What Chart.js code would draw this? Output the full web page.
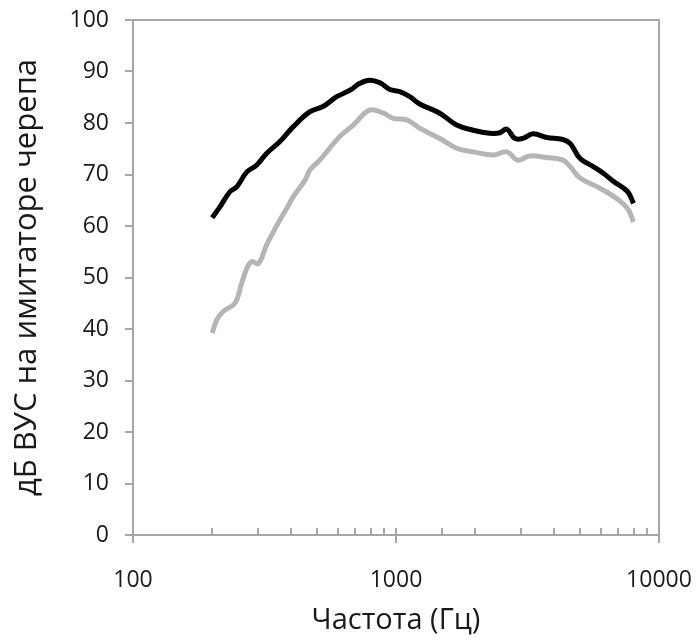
<!DOCTYPE html>
<html>
<head>
<meta charset="utf-8">
<script src="https://cdn.jsdelivr.net/npm/chart.js@4/dist/chart.umd.min.js"></script>
<style>
  html, body { margin: 0; padding: 0; background: #fff; }
  #wrap { width: 697px; height: 643px; }
</style>
</head>
<body>
<div id="wrap"><canvas id="chart" width="697" height="643"></canvas></div>
<script>
// Frequency (Hz) and level (dB)
const blackFreq = [200, 214, 234, 248, 271, 295, 322, 362, 407, 471, 528, 595, 670, 729, 794, 869, 948, 1034, 1128, 1230, 1467, 1700, 1966, 2277, 2484, 2637, 2832, 3032, 3321, 3737, 4311, 4600, 5012, 5640, 6160, 6740, 7590, 8000];
const blackDb = [61.6, 63.7, 66.7, 67.6, 70.5, 71.8, 74.1, 76.4, 79.3, 82.2, 83.2, 85.1, 86.4, 87.7, 88.3, 87.8, 86.5, 86.1, 85.1, 83.7, 81.9, 79.6, 78.6, 78.0, 78.1, 78.8, 77.0, 77.0, 77.9, 77.2, 76.8, 76.0, 73.1, 71.5, 70.2, 68.6, 66.7, 64.4];

const grayFreq = [200, 208, 220, 244, 259, 271, 283, 300, 322, 362, 384, 407, 451, 471, 513, 612, 688, 794, 894, 978, 1100, 1230, 1467, 1700, 1966, 2342, 2637, 2900, 3220, 3737, 4311, 4600, 5012, 5830, 6740, 7590, 8000];
const grayDb = [39.2, 41.7, 43.4, 45.0, 48.9, 51.8, 53.1, 52.7, 56.3, 61.2, 63.4, 65.7, 68.9, 70.9, 72.8, 77.4, 79.6, 82.5, 81.9, 80.9, 80.6, 79.0, 77.0, 75.1, 74.4, 73.8, 74.4, 72.8, 73.6, 73.3, 72.8, 71.5, 69.3, 67.6, 65.7, 63.4, 60.8];

const xLabels = [100, 1000, 10000];
const yMin = 0, yMax = 100, yStep = 10;

const xTitle = 'Частота (Гц)';
const yTitle = 'дБ ВУС на имитаторе черепа';

const axisColor = '#a6a6a6';

// frame + excel-like tick marks
const frameTicks = {
    id: 'frameTicks',
    beforeDatasetsDraw(chart) {
        const ctx = chart.ctx;
        const a = chart.chartArea;
        const xs = chart.scales.x, ys = chart.scales.y;
        ctx.save();
        ctx.strokeStyle = axisColor;
        ctx.lineWidth = 2;
        ctx.beginPath();
        ctx.rect(a.left, a.top, a.right - a.left, a.bottom - a.top);
        ctx.stroke();
        ctx.beginPath();
        ys.ticks.forEach(t => {
            const y = Math.round(ys.getPixelForValue(t.value));
            ctx.moveTo(a.left - 8, y);
            ctx.lineTo(a.left, y);
        });
        xs.ticks.forEach(t => {
            const x = Math.round(xs.getPixelForValue(t.value));
            const major = xLabels.includes(t.value);
            ctx.moveTo(x, a.bottom - 7);
            ctx.lineTo(x, major ? a.bottom + 8 : a.bottom);
        });
        ctx.stroke();
        ctx.restore();
    }
};

new Chart(document.getElementById('chart').getContext('2d'), {
    type: 'line',
    data: {
        datasets: [
            {
                data: grayFreq.map((f, i) => ({ x: f, y: grayDb[i] })),
                borderColor: '#b5b5b5',
                borderWidth: 5,
                pointRadius: 0,
                tension: 0.4
            },
            {
                data: blackFreq.map((f, i) => ({ x: f, y: blackDb[i] })),
                borderColor: '#000000',
                borderWidth: 5,
                pointRadius: 0,
                tension: 0.4
            }
        ]
    },
    options: {
        responsive: false,
        animation: false,
        layout: { padding: { top: 20, right: 38, left: 0, bottom: 0 } },
        plugins: { legend: { display: false }, tooltip: { enabled: false } },
        scales: {
            x: {
                type: 'logarithmic',
                min: 100,
                max: 10000,
                afterFit: s => { s.height = 108; s.paddingLeft = 0; s.paddingRight = 0; },
                grid: { display: false, drawTicks: false },
                border: { display: false },
                ticks: {
                    autoSkip: false,
                    maxRotation: 0,
                    padding: 32,
                    color: '#1a1a1a',
                    font: { family: 'Open Sans', size: 23 },
                    callback: v => xLabels.includes(v) ? String(v) : ''
                },
                title: {
                    display: true,
                    text: xTitle,
                    color: '#1a1a1a',
                    font: { family: 'Open Sans', size: 29 },
                    padding: { top: 0, bottom: 5 }
                }
            },
            y: {
                min: yMin,
                max: yMax,
                afterFit: s => { s.width = 133; s.paddingTop = 0; s.paddingBottom = 0; },
                grid: { display: false, drawTicks: false },
                border: { display: false },
                ticks: {
                    stepSize: yStep,
                    padding: 24,
                    color: '#1a1a1a',
                    font: { family: 'Open Sans', size: 23 }
                },
                title: {
                    display: true,
                    text: yTitle,
                    color: '#1a1a1a',
                    font: { family: 'Open Sans', size: 31 },
                    padding: { top: 9, bottom: 0 }
                }
            }
        }
    },
    plugins: [frameTicks]
});
</script>
</body>
</html>
